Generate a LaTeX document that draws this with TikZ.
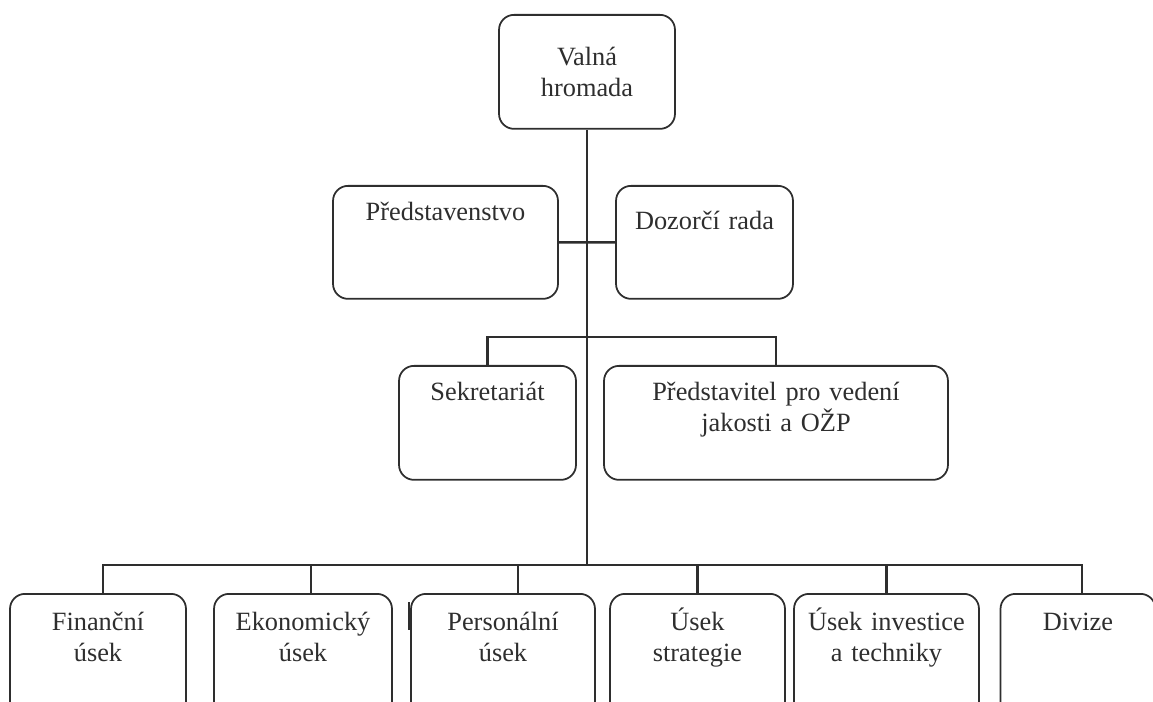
\documentclass[tikz,border=0pt]{standalone}
\usepackage{fontspec}
\setmainfont{Liberation Serif}
\usepackage{tikz}
\usetikzlibrary{positioning}
\definecolor{ink}{HTML}{2E2E2E}

\begin{document}
\begin{tikzpicture}[x=0.02cm,y=-0.02cm,
  box/.style n args={3}{draw=ink,line width=1pt,rounded corners=0.3cm,align=center,
    inner xsep=0pt,inner ysep=0pt,anchor=north,text=ink,
    font=\fontsize{15}{17.3}\selectfont,text width=#1,text height=#2,text depth=#3},
  thinline/.style={draw=ink,line width=0.8pt},
  thickline/.style={draw=ink,line width=1.3pt}]
  \useasboundingbox (0,0) rectangle (1153,702);
  \clip (0,0) rectangle (1153,702);
  % top
  \node[box={3.52cm}{1.02cm}{1.26cm}] (valna) at (587,14) {Valná\\hromada};
  \node[box={4.5cm}{0.7cm}{1.56cm}] (pred) at (445.5,185) {Představenstvo};
  \node[box={3.54cm}{0.88cm}{1.38cm}] (dozor) at (704.5,185) {Dozorčí rada};
  % middle
  \node[box={3.54cm}{0.7cm}{1.58cm}] (sekr) at (487.5,365) {Sekretariát};
  \node[box={6.88cm}{0.7cm}{1.58cm}] (pvj) at (776,365) {Představitel pro vedení\\jakosti a OŽP};
  % bottom row
  \node[box={3.52cm}{0.74cm}{2.0cm}] (fin) at (98,593) {Finanční\\úsek};
  \node[box={3.56cm}{0.74cm}{2.0cm}] (eko) at (303,593) {Ekonomický\\úsek};
  \node[box={3.68cm}{0.74cm}{2.0cm}] (pers) at (503,593) {Personální\\úsek};
  \node[box={3.5cm}{0.74cm}{2.0cm}] (strat) at (697.5,593) {Úsek\\strategie};
  \node[box={3.7cm}{0.74cm}{2.0cm}] (inv) at (886.5,593) {Úsek investice\\a techniky};
  \node[box={3.1cm}{0.74cm}{2.0cm}] (div) at (1078,593) {Divize};
  \coordinate (mid) at (587,337);
  \coordinate (bus) at (587,565);
  % connectors
  \draw[thickline] (pred.east) -- (dozor.west);
  \draw[thickline] (sekr.north) |- (mid) -| (pvj.north);
  \draw[thinline] ([xshift=0.1cm]fin.north) |- (bus);
  \draw[thinline] ([xshift=0.16cm]eko.north) -- ++(0,-28);
  \draw[thinline] ([xshift=0.3cm]pers.north) -- ++(0,-28);
  \draw[thickline] (bus) -| ([xshift=0.08cm]div.north);
  \draw[thickline] (strat.north) -- ++(0,-28);
  \draw[thickline] (inv.north) -- ++(0,-28);
  \draw[draw=ink,line width=1.6pt] (valna.south) -- (bus);
  \draw[thinline] (409,602) -- (409,630);
\end{tikzpicture}
\end{document}
